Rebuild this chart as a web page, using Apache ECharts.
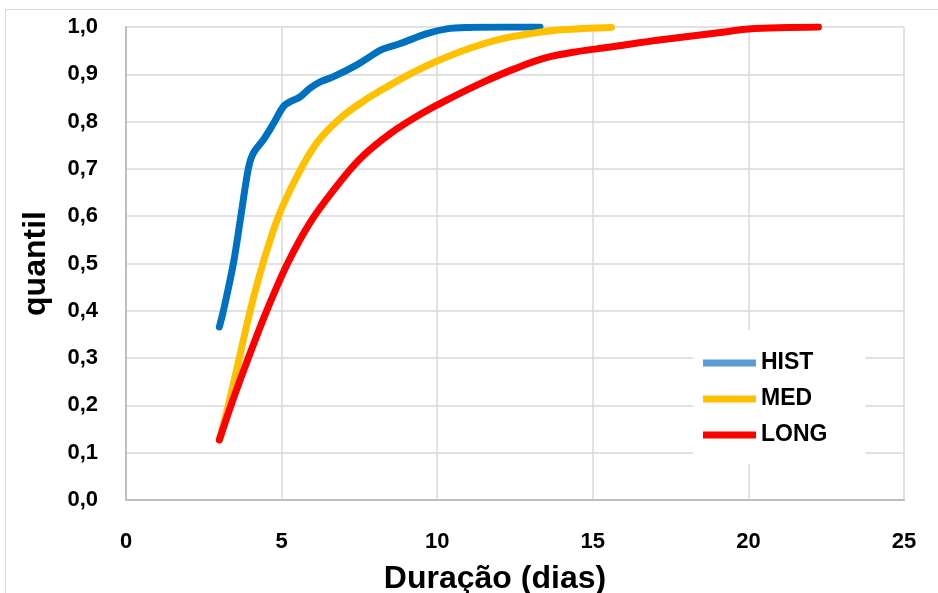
<!DOCTYPE html>
<html>
<head>
<meta charset="utf-8">
<script src="https://cdn.jsdelivr.net/npm/echarts@6/dist/echarts.min.js"></script>
<style>
  html, body { margin: 0; padding: 0; background: #fff; }
  #chart { width: 938px; height: 593px; }
</style>
</head>
<body>
<div id="chart"></div>
<script>
// valores (x = duração em dias, y = quantil)
var histX = [3.0, 3.13, 3.45, 3.69, 3.93, 4.08, 4.42, 4.75, 5.06, 5.3, 5.59, 5.9, 6.24, 6.67, 7.42, 7.9, 8.17, 8.81, 9.67, 10.31, 11.0, 12.3, 13.3];
var histY = [0.366, 0.4, 0.5, 0.6, 0.7, 0.732, 0.762, 0.797, 0.832, 0.843, 0.852, 0.87, 0.884, 0.895, 0.92, 0.94, 0.951, 0.965, 0.986, 0.996, 0.999, 1.0, 1.0];

var medX = [3.0, 3.29, 3.64, 3.99, 4.4, 4.9, 5.5, 6.13, 6.88, 7.6, 8.4, 9.2, 10.0, 11.0, 12.0, 13.0, 14.0, 15.6];
var medY = [0.127, 0.2, 0.3, 0.4, 0.5, 0.6, 0.685, 0.755, 0.807, 0.842, 0.874, 0.903, 0.928, 0.954, 0.974, 0.986, 0.994, 0.999];

var longX = [3.0, 3.4, 3.93, 4.52, 5.19, 5.9, 6.67, 7.5, 8.5, 9.5, 10.5, 11.5, 12.5, 13.5, 14.5, 15.5, 17.2, 19.3, 20.0, 22.25];
var longY = [0.127, 0.205, 0.3, 0.4, 0.5, 0.585, 0.655, 0.72, 0.775, 0.817, 0.852, 0.884, 0.912, 0.935, 0.948, 0.957, 0.973, 0.99, 0.996, 1.0];

var seriesNames = ["HIST", "MED", "LONG"];

function pares(xs, ys) {
  return xs.map(function (x, i) { return [x, ys[i]]; });
}

var chart = echarts.init(document.getElementById("chart"));

function linha(name, xs, ys, color) {
  return {
    type: "line",
    name: name,
    data: pares(xs, ys),
    smooth: 0.35,
    showSymbol: false,
    symbol: "none",
    itemStyle: { color: color },
    lineStyle: { color: color, width: 7, cap: "round", join: "round" },
  };
}

var fonte = "Liberation Sans";

chart.setOption({
  animation: false,
  backgroundColor: "#fff",
  grid: { left: 126, right: 34, top: 27, bottom: 93, outerBoundsMode: "none" },
  // moldura da área do gráfico
  graphic: [
    {
      type: "rect",
      shape: { x: 5.5, y: 9.5, width: 2000, height: 2000 },
      style: { fill: null, stroke: "#D9D9D9", lineWidth: 1 },
      silent: true,
    },
  ],
  legend: {
    orient: "vertical",
    left: 693,
    top: 330,
    padding: [20, 38, 16, 10],
    backgroundColor: "#fff",
    icon: "rect",
    itemWidth: 53,
    itemHeight: 7,
    itemGap: 10,
    textStyle: {
      fontFamily: fonte,
      fontWeight: "bold",
      fontSize: 23,
      color: "#000",
      lineHeight: 26,
    },
    data: [
      { name: seriesNames[0], itemStyle: { color: "#5B9BD5" } },
      { name: seriesNames[1], itemStyle: { color: "#FFC000" } },
      { name: seriesNames[2], itemStyle: { color: "#FF0000" } },
    ],
  },
  xAxis: {
    type: "value",
    min: 0,
    max: 25,
    interval: 5,
    name: "Duração (dias)",
    nameLocation: "middle",
    nameGap: 63,
    nameTextStyle: {
      fontFamily: fonte,
      fontWeight: "bold",
      fontSize: 32,
      color: "#000",
      padding: [0, 40, 0, 0],
    },
    axisLine: { show: true, lineStyle: { color: "#BFBFBF", width: 2 } },
    axisTick: { show: false },
    axisLabel: {
      margin: 31,
      fontFamily: fonte,
      fontWeight: "bold",
      fontSize: 22,
      color: "#000",
    },
    splitLine: { show: true, lineStyle: { color: "#D9D9D9", width: 1.5 } },
  },
  yAxis: {
    type: "value",
    min: 0,
    max: 1,
    interval: 0.1,
    name: "quantil",
    nameLocation: "middle",
    nameGap: 74,
    nameTextStyle: {
      fontFamily: fonte,
      fontWeight: "bold",
      fontSize: 32,
      color: "#000",
    },
    axisLine: { show: true, lineStyle: { color: "#BFBFBF", width: 2 } },
    axisTick: { show: false },
    axisLabel: {
      margin: 28,
      fontFamily: fonte,
      fontWeight: "bold",
      fontSize: 22,
      color: "#000",
      formatter: function (v) { return v.toFixed(1).replace(".", ","); },
    },
    splitLine: { show: true, lineStyle: { color: "#D9D9D9", width: 1.5 } },
  },
  series: [
    linha(seriesNames[0], histX, histY, "#0070C0"),
    linha(seriesNames[1], medX, medY, "#FFC000"),
    linha(seriesNames[2], longX, longY, "#FF0000"),
  ],
});
</script>
</body>
</html>
